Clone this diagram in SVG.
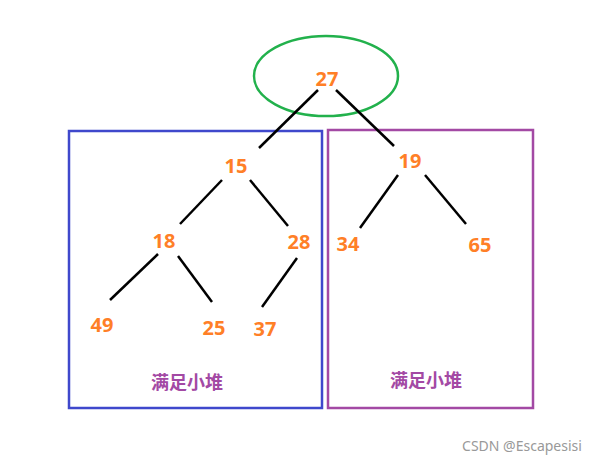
<svg xmlns="http://www.w3.org/2000/svg" width="610" height="466" viewBox="0 0 610 466">
<style>
.n{font-family:"Noto Sans","Liberation Sans",sans-serif;font-size:20px;font-weight:bold;fill:#ff7f27;text-anchor:middle;dominant-baseline:central}
.l{font-family:"Noto Sans CJK SC",sans-serif;font-size:18px;font-weight:bold;fill:#a349a4;text-anchor:middle;dominant-baseline:central}
.e line{stroke:#000;stroke-width:2.5}
</style>
<rect width="610" height="466" fill="#fff"/>
<ellipse cx="326" cy="76" rx="72" ry="40" fill="none" stroke="#22b14c" stroke-width="2.5"/>
<rect x="69" y="131" width="253" height="277" fill="none" stroke="#3f48cc" stroke-width="2.5"/>
<rect x="328" y="130" width="205" height="278" fill="none" stroke="#a349a4" stroke-width="2.5"/>
<g class="e" id="edges">
<line x1="318" y1="90" x2="259" y2="148"/>
<line x1="336" y1="90" x2="394" y2="146"/>
<line x1="222" y1="180" x2="180" y2="224"/>
<line x1="250" y1="180" x2="288" y2="226"/>
<line x1="398" y1="175" x2="360" y2="228"/>
<line x1="425" y1="175" x2="466" y2="224"/>
<line x1="158" y1="254" x2="110" y2="300"/>
<line x1="178" y1="256" x2="212" y2="302"/>
<line x1="297" y1="258" x2="262" y2="307"/>
</g>
<g id="n27"><text class="n" x="327" y="78">27</text></g>
<g id="n15"><text class="n" x="236" y="165">15</text></g>
<g id="n19"><text class="n" x="410" y="160">19</text></g>
<g id="n18"><text class="n" x="164" y="240">18</text></g>
<g id="n28"><text class="n" x="299" y="241">28</text></g>
<g id="n34"><text class="n" x="348" y="243">34</text></g>
<g id="n65"><text class="n" x="480" y="244">65</text></g>
<g id="n49"><text class="n" x="102" y="324">49</text></g>
<g id="n25"><text class="n" x="214" y="327">25</text></g>
<g id="n37"><text class="n" x="265" y="328">37</text></g>
<text class="l" x="187" y="381">满足小堆</text>
<text class="l" x="426" y="379">满足小堆</text>
<text x="522" y="445" font-family="Noto Sans,sans-serif" font-size="14" fill="#999" text-anchor="middle" dominant-baseline="central">CSDN @Escapesisi</text>
</svg>
